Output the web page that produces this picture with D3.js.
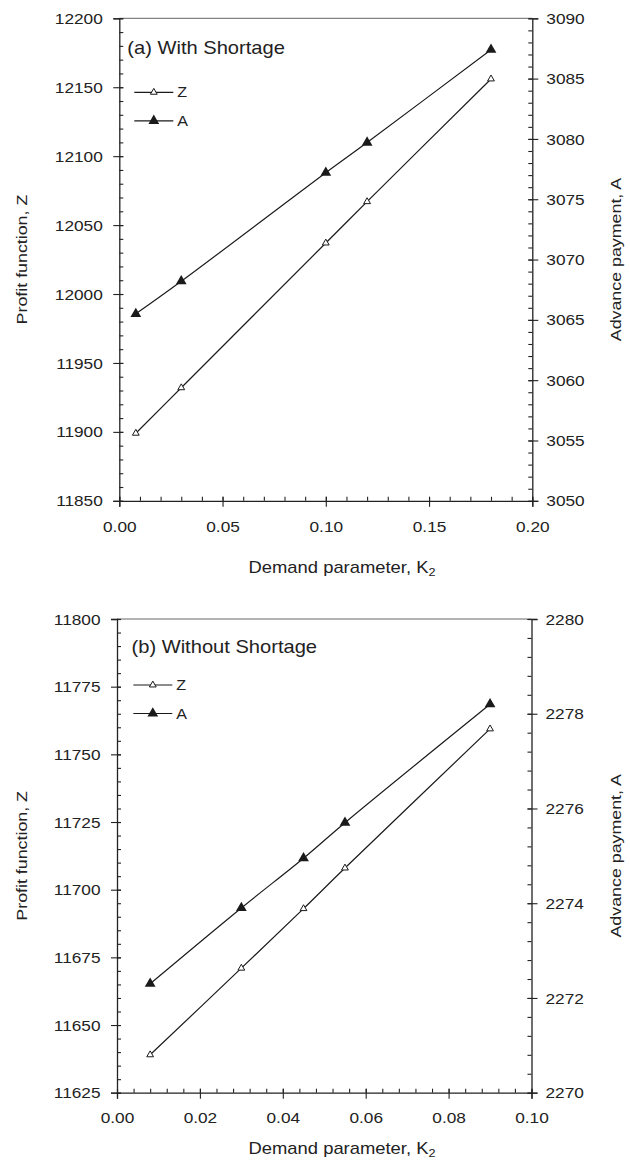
<!DOCTYPE html>
<html>
<head>
<meta charset="utf-8">
<script src="https://cdn.jsdelivr.net/npm/d3@7"></script>
<style>
  body { margin: 0; background: #fff; }
  svg { display: block; }
  text { font-family: "Liberation Sans", Arial, sans-serif; fill: #222; }
</style>
</head>
<body>
<div id="chart"></div>
<script>
// values
var k2WithShortage = [0.008, 0.03, 0.10, 0.12, 0.18];
var zWithShortage = [11899, 11932, 12037, 12067, 12156];
var aWithShortage = [3065.5, 3068.2, 3077.2, 3079.7, 3087.4];

var k2WithoutShortage = [0.008, 0.03, 0.045, 0.055, 0.09];
var zWithoutShortage = [11639, 11671, 11693, 11708, 11759.4];
var aWithoutShortage = [2272.3, 2273.9, 2274.95, 2275.7, 2278.2];

var xTicksA = [0, 0.05, 0.10, 0.15, 0.20];
var zTicksA = [11850, 11900, 11950, 12000, 12050, 12100, 12150, 12200];
var aTicksA = [3050, 3055, 3060, 3065, 3070, 3075, 3080, 3085, 3090];

var xTicksB = [0, 0.02, 0.04, 0.06, 0.08, 0.10];
var zTicksB = [11625, 11650, 11675, 11700, 11725, 11750, 11775, 11800];
var aTicksB = [2270, 2272, 2274, 2276, 2278, 2280];

var W = 630, H = 1160;
var S = 1.15; // horizontal stretch of the lettering

var svg = d3.select("#chart")
  .append("svg")
  .attr("width", W)
  .attr("height", H);

function label(g, x, y, str, size, anchor, rot) {
  return g.append("text")
    .attr("transform", "translate(" + x + "," + y + ")" + (rot ? " rotate(" + rot + ")" : "") + " scale(" + S + ",1)")
    .attr("font-size", size)
    .attr("text-anchor", anchor)
    .text(str);
}

function minorTicks(lo, hi, step) {
  var out = [];
  var n = Math.round((hi - lo) / step);
  for (var i = 0; i <= n; i++) out.push(lo + i * step);
  return out;
}

function panel(p) {
  var g = svg.append("g");

  var x = d3.scaleLinear().domain(p.xDomain).range([p.left, p.right]);
  var yL = d3.scaleLinear().domain(p.zDomain).range([p.bottom, p.top]);
  var yR = d3.scaleLinear().domain(p.aDomain).range([p.bottom, p.top]);

  // top border
  g.append("line")
    .attr("x1", p.left).attr("x2", p.right)
    .attr("y1", p.top).attr("y2", p.top)
    .attr("stroke", "#666").attr("stroke-width", 1);

  // minor ticks (inside)
  g.append("g")
    .attr("transform", "translate(0," + p.bottom + ")")
    .call(d3.axisBottom(x).tickValues(minorTicks(p.xDomain[0], p.xDomain[1], p.xMinor)).tickSize(-4).tickFormat(""))
    .call(function(s) { s.select(".domain").remove(); });
  g.append("g")
    .attr("transform", "translate(" + p.left + ",0)")
    .call(d3.axisLeft(yL).tickValues(minorTicks(p.zDomain[0], p.zDomain[1], p.zMinor)).tickSize(-4).tickFormat(""))
    .call(function(s) { s.select(".domain").remove(); });
  g.append("g")
    .attr("transform", "translate(" + p.right + ",0)")
    .call(d3.axisRight(yR).tickValues(minorTicks(p.aDomain[0], p.aDomain[1], p.aMinor)).tickSize(-4).tickFormat(""))
    .call(function(s) { s.select(".domain").remove(); });

  // major axes, ticks cross the line
  var xa = g.append("g")
    .attr("transform", "translate(0," + p.bottom + ")")
    .call(d3.axisBottom(x).tickValues(p.xTicks).tickSizeOuter(0).tickSize(6).tickFormat(d3.format(".2f")));
  xa.selectAll(".tick line").attr("y1", -4);
  xa.selectAll(".tick text")
    .attr("y", p.xLabelGap).attr("dy", 0)
    .attr("font-size", 15)
    .attr("transform", "scale(" + S + ",1)");

  var la = g.append("g")
    .attr("transform", "translate(" + p.left + ",0)")
    .call(d3.axisLeft(yL).tickValues(p.zTicks).tickSizeOuter(0).tickSize(6).tickFormat(d3.format("d")));
  la.selectAll(".tick line").attr("x1", 4);
  la.selectAll(".tick text")
    .attr("x", -16.5 / S).attr("dy", "0.34em")
    .attr("font-size", 15)
    .attr("transform", "scale(" + S + ",1)");

  var ra = g.append("g")
    .attr("transform", "translate(" + p.right + ",0)")
    .call(d3.axisRight(yR).tickValues(p.aTicks).tickSizeOuter(0).tickSize(6).tickFormat(d3.format("d")));
  ra.selectAll(".tick line").attr("x1", -4);
  ra.selectAll(".tick text")
    .attr("x", 14 / S).attr("dy", "0.34em")
    .attr("font-size", 15)
    .attr("transform", "scale(" + S + ",1)");

  g.selectAll(".domain").attr("stroke", "#222").attr("stroke-width", 1.3);
  g.selectAll(".tick line").attr("stroke", "#222").attr("stroke-width", 1.1);
  g.selectAll(".tick text").attr("fill", "#222").attr("font-family", "'Liberation Sans', Arial, sans-serif");

  // axis titles
  var xt = label(g, p.xTitleX, p.xTitleY, "Demand parameter, K", 16, "middle");
  xt.append("tspan").attr("font-size", 11).attr("dy", 3.5).text("2");
  label(g, 26.5, (p.top + p.bottom) / 2, "Profit function, Z", 15.5, "middle", -90);
  label(g, 621, (p.top + p.bottom) / 2, "Advance payment, A", 15.5, "middle", -90);

  // panel title
  label(g, p.left + p.titleDx, p.top + p.titleDy, p.title, 17.5, "start");

  // series
  var line = d3.line().curve(d3.curveCatmullRom.alpha(0.5));

  var zPts = p.k2.map(function(d, i) { return [x(d), yL(p.z[i])]; });
  var aPts = p.k2.map(function(d, i) { return [x(d), yR(p.a[i])]; });

  g.append("path").attr("d", line(zPts))
    .attr("fill", "none").attr("stroke", "#1a1a1a").attr("stroke-width", 1.2);
  g.append("path").attr("d", line(aPts))
    .attr("fill", "none").attr("stroke", "#1a1a1a").attr("stroke-width", 1.2);

  var openTri = d3.symbol().type(d3.symbolTriangle).size(20);
  var fillTri = d3.symbol().type(d3.symbolTriangle).size(50);

  g.selectAll(".zmark")
    .data(zPts)
    .enter().append("path")
    .attr("class", "zmark")
    .attr("d", openTri)
    .attr("transform", function(d) { return "translate(" + d[0] + "," + d[1] + ")"; })
    .attr("fill", "#fff").attr("stroke", "#1a1a1a").attr("stroke-width", 1);

  g.selectAll(".amark")
    .data(aPts)
    .enter().append("path")
    .attr("class", "amark")
    .attr("d", fillTri)
    .attr("transform", function(d) { return "translate(" + d[0] + "," + d[1] + ")"; })
    .attr("fill", "#1a1a1a");

  // legend
  var lx0 = p.left + p.legDx, lx1 = lx0 + 39;
  var legend = [
    {name: "Z", y: p.top + p.legDy, sym: openTri, fill: "#fff", stroke: "#1a1a1a"},
    {name: "A", y: p.top + p.legDy + 28.5, sym: fillTri, fill: "#1a1a1a", stroke: "none"}
  ];
  legend.forEach(function(d) {
    g.append("line")
      .attr("x1", lx0).attr("x2", lx1)
      .attr("y1", d.y).attr("y2", d.y)
      .attr("stroke", "#1a1a1a").attr("stroke-width", 1.2);
    g.append("path")
      .attr("d", d.sym)
      .attr("transform", "translate(" + ((lx0 + lx1) / 2) + "," + d.y + ")")
      .attr("fill", d.fill).attr("stroke", d.stroke);
    label(g, lx1 + 4, d.y + 5, d.name, 14, "start");
  });
}

panel({
  left: 119.3, right: 532.3, top: 18.3, bottom: 500.8,
  xDomain: [0, 0.20], zDomain: [11850, 12200], aDomain: [3050, 3090],
  xTicks: xTicksA, zTicks: zTicksA, aTicks: aTicksA,
  xMinor: 0.01, zMinor: 10, aMinor: 1,
  k2: k2WithShortage, z: zWithShortage, a: aWithShortage,
  xLabelGap: 31.5, xTitleX: 342, xTitleY: 572.5,
  title: "(a) With Shortage", titleDx: 8, titleDy: 35.5,
  legDx: 15, legDy: 74
});

panel({
  left: 117, right: 531.5, top: 619, bottom: 1092.7,
  xDomain: [0, 0.10], zDomain: [11625, 11800], aDomain: [2270, 2280],
  xTicks: xTicksB, zTicks: zTicksB, aTicks: aTicksB,
  xMinor: 0.004, zMinor: 5, aMinor: 0.4,
  k2: k2WithoutShortage, z: zWithoutShortage, a: aWithoutShortage,
  xLabelGap: 30.6, xTitleX: 342, xTitleY: 1153.5,
  title: "(b) Without Shortage", titleDx: 14.5, titleDy: 33.7,
  legDx: 16.3, legDy: 66
});
</script>
</body>
</html>
